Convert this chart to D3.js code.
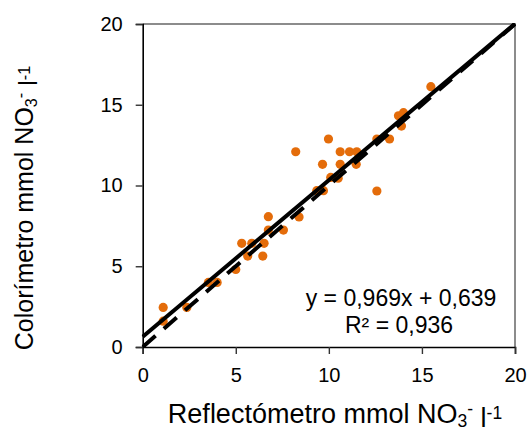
<!DOCTYPE html>
<html>
<head>
<meta charset="utf-8">
<script src="https://cdn.jsdelivr.net/npm/d3@7"></script>
<style>
  html, body { margin: 0; padding: 0; background: #fff; }
  svg { display: block; font-family: Arial, "Liberation Sans", sans-serif; }
</style>
</head>
<body>
<svg id="chart" width="529" height="432"></svg>
<script>
// Paired nitrate readings (mmol NO3- l-1): reflectometer vs colorimeter
const reflectometro = [1.1, 1.1, 2.37, 3.53, 4.0, 5.0, 5.64, 6.45, 5.32, 5.86, 6.52, 6.75, 7.56, 6.75, 8.4,
  9.35, 9.71, 10.1, 10.5, 12.58, 8.22, 9.98, 9.66, 10.61, 10.61, 11.11, 11.5, 11.47, 12.58, 13.26,
  13.9, 13.74, 14.01, 15.48];
const colorimetro = [2.45, 1.6, 2.45, 4.0, 4.0, 4.8, 5.63, 5.63, 6.42, 6.42, 6.42, 7.24, 7.24, 8.07, 8.05,
  9.68, 9.68, 10.5, 10.45, 9.66, 12.09, 12.88, 11.31, 12.09, 11.31, 12.09, 12.09, 11.31, 12.88, 12.88,
  13.68, 14.32, 14.51, 16.12];

// Linear fit and 1:1 reference
const slope = 0.969, intercept = 0.639, r2 = 0.936;
const xTicks = [0, 5, 10, 15, 20];
const yTicks = [0, 5, 10, 15, 20];
const eqLabel = "y = 0,969x + 0,639";
const r2Label = "R² = 0,936";

const svg = d3.select("#chart");
const plotLeft = 142.7, plotRight = 515, plotTop = 24, plotBottom = 347;

const x = d3.scaleLinear().domain([0, 20]).range([plotLeft, plotRight]);
const y = d3.scaleLinear().domain([0, 20]).range([plotBottom, plotTop]);

// Plot frame (top and right edges)
svg.append("path")
  .attr("d", `M${plotLeft},${plotTop}H${plotRight}V${plotBottom}`)
  .attr("fill", "none").attr("stroke", "#8c8c8c").attr("stroke-width", 2);

// Axes
const xAxis = svg.append("g").attr("transform", `translate(0,${plotBottom})`)
  .call(d3.axisBottom(x).tickValues(xTicks).tickSize(7).tickPadding(14).tickFormat(d3.format("d")));
const yAxis = svg.append("g").attr("transform", `translate(${plotLeft},0)`)
  .call(d3.axisLeft(y).tickValues(yTicks).tickSize(7).tickPadding(13).tickFormat(d3.format("d")));

[xAxis, yAxis].forEach(g => {
  g.select(".domain").attr("stroke", "#000").attr("stroke-width", 1.6);
  g.selectAll(".tick line").attr("stroke", "#333").attr("stroke-width", 1.4);
  g.selectAll(".tick text").attr("fill", "#000").attr("font-size", 20)
    .attr("font-family", "Arial, 'Liberation Sans', sans-serif");
});

// Data points
const pts = reflectometro.map((v, i) => [v, colorimetro[i]]);
svg.append("g").selectAll("circle").data(pts).join("circle")
  .attr("cx", d => x(d[0])).attr("cy", d => y(d[1])).attr("r", 4.6)
  .attr("fill", "#E46C0A");

// Clip for the lines
svg.append("clipPath").attr("id", "plotclip")
  .append("rect").attr("x", plotLeft - 1).attr("y", plotTop - 1)
  .attr("width", plotRight - plotLeft + 2).attr("height", plotBottom - plotTop + 2);

const line = d3.line().x(d => x(d[0])).y(d => y(d[1]));
const lines = svg.append("g").attr("clip-path", "url(#plotclip)");

// 1:1 line (dashed)
lines.append("path").datum([[0, 0], [20, 20]])
  .attr("d", line).attr("fill", "none").attr("stroke", "#000")
  .attr("stroke-width", 4).attr("stroke-dasharray", "17,11");

// Regression line (solid)
lines.append("path").datum([[0, intercept], [20, slope * 20 + intercept]])
  .attr("d", line).attr("fill", "none").attr("stroke", "#000")
  .attr("stroke-width", 4);

// Equation text
svg.append("text").attr("x", 401).attr("y", 306).attr("text-anchor", "middle")
  .attr("font-size", 23).text(eqLabel);
svg.append("text").attr("x", 399).attr("y", 333).attr("text-anchor", "middle")
  .attr("font-size", 23).text(r2Label);

// Axis titles with sub/superscripts
function titleText(sel, main) {
  sel.append("tspan").text(main + " mmol NO");
  sel.append("tspan").attr("font-size", "65%").attr("dy", "0.25em").text("3");
  sel.append("tspan").attr("font-size", "65%").attr("dy", "-0.7em").text("-");
  sel.append("tspan").attr("dy", "0.45em").text(" l");
  sel.append("tspan").attr("font-size", "65%").attr("dy", "-0.45em").text("-1");
}

const xt = svg.append("text").attr("x", 335).attr("y", 423)
  .attr("text-anchor", "middle").attr("font-size", 27);
titleText(xt, "Reflectómetro");

const yt = svg.append("text").attr("transform", "translate(33,208) rotate(-90)")
  .attr("text-anchor", "middle").attr("font-size", 25);
titleText(yt, "Colorímetro");
</script>
</body>
</html>
